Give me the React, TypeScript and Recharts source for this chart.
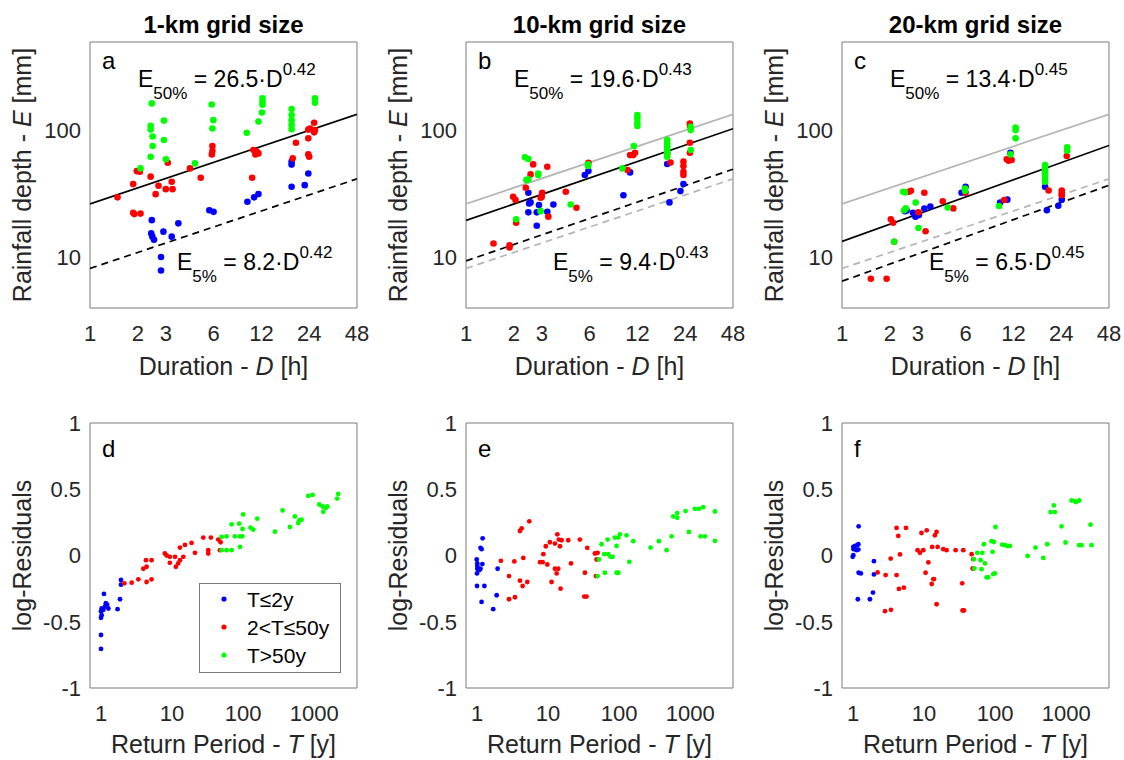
import React from 'react';
import { ScatterChart, Scatter, XAxis, YAxis } from 'recharts';

const BLUE = '#0000ff';
const RED = '#ff0000';
const GREEN = '#00ff00';
const GREY_FIT = '#b4b4b4';
const AXIS = '#7a7a7a';
const INK = '#262626';
const FONT = '"Liberation Sans", Arial, Helvetica, sans-serif';

type Pair = [number, number];

// ---- top row: rainfall depth E [mm] vs duration D [h] ----
const durationTicks = [1, 2, 3, 6, 12, 24, 48];
const durationMinor = [4, 5, 7, 8, 9, 10, 20, 30, 40];
const depthTicks = [10, 100];
const depthMinor = [4, 5, 6, 7, 8, 9, 20, 30, 40, 50, 60, 70, 80, 90, 200, 300, 400, 500];

// fitted lines, values at D = 1 and D = 48
const fitDurations = [1, 48];
const fit1kmMedian = [26.5, 134.7];
const fit1kmLow = [8.2, 41.7];
const fit10kmMedian = [19.6, 103.6];
const fit10kmLow = [9.4, 49.7];
const fit20kmMedian = [13.4, 76.5];
const fit20kmLow = [6.5, 37.1];

const aBlue: Pair[] = [[2.45, 19.7], [2.43, 15.5], [2.47, 14.6], [2.53, 13.8], [2.9, 16], [3.27, 14.6], [3.6, 18.6], [2.8, 10.1], [2.8, 7.9], [5.64, 23.6], [6.0, 22.9], [9.8, 27.5], [10.8, 29.8], [11.5, 31.7], [18.6, 36.1], [22.5, 37.2], [18.6, 57], [18.6, 54], [23.7, 46]];
const aRed: Pair[] = [[1.49, 29.8], [1.87, 37.9], [1.97, 48], [2.06, 47.4], [1.87, 22.5], [1.9, 22], [2.08, 22.2], [2.41, 43.4], [2.59, 31.6], [2.7, 36.8], [3.0, 34.6], [3.27, 39.6], [3.31, 34.6], [3.09, 55.9], [4.26, 50.4], [4.98, 42.6], [5.9, 75.7], [5.9, 69.1], [5.85, 65], [10.5, 42.6], [10.7, 70.4], [11.2, 68.3], [11.5, 66.2], [11.0, 65], [18.9, 60.5], [19.8, 80.4], [23.7, 102], [24.3, 104], [25.8, 115.6], [26.1, 101], [25.8, 97], [23.7, 87], [23.7, 65], [24, 62.3]];
const aGreen: Pair[] = [[2.45, 164], [2.41, 109], [2.41, 102], [2.48, 90], [2.48, 75.7], [2.41, 62.3], [2.08, 50.4], [2.92, 120], [2.92, 84.4], [3.01, 59.4], [5.84, 161], [5.98, 121], [5.9, 104], [4.58, 55.2], [9.7, 96.4], [11.5, 118], [12.2, 180], [12.2, 169], [12.2, 160], [12.1, 139], [18.6, 148], [18.6, 133], [18.6, 121], [18.6, 111], [18.6, 102.5], [26.1, 180], [26.1, 166]];

const bBlue: Pair[] = [[2.47, 32.4], [2.5, 26.7], [2.55, 27.2], [2.47, 22.7], [2.79, 22.7], [2.79, 17.8], [2.88, 25.9], [3.25, 22.9], [3.55, 26.2], [5.6, 44.7], [5.9, 48], [9.8, 31], [10.8, 46.9], [18.5, 54.6], [19.1, 27.2], [22.4, 33.4], [23.4, 37.9]];
const bRed: Pair[] = [[1.49, 12.9], [1.88, 12.5], [1.88, 12], [1.98, 30.1], [2.05, 28.4], [2.07, 18.8], [2.38, 35.5], [2.55, 45.2], [2.65, 54.2], [3.25, 52], [3.02, 32.4], [3.0, 30.1], [2.95, 29.6], [3.3, 21], [4.25, 33], [4.96, 24.7], [5.9, 55.9], [10.4, 48.9], [10.8, 64.2], [11.3, 64.2], [11.6, 67], [18.5, 66], [19.4, 56], [23.4, 57], [23.4, 52.6], [23.4, 47.5], [23.4, 44.7], [25.7, 114], [25.7, 109], [25.7, 80.4], [25.7, 67]];
const bGreen: Pair[] = [[2.35, 61.6], [2.47, 59.7], [2.4, 40.8], [2.47, 41.3], [2.85, 46], [2.85, 44.7], [2.95, 23.2], [2.07, 20], [4.56, 26.2], [5.87, 54.2], [5.87, 52.6], [9.65, 50.4], [11.4, 75.7], [12, 133], [12, 125], [12, 115.6], [12, 108.8], [18.5, 84.4], [18.5, 79.4], [18.5, 74.8], [18.5, 70.4], [18.5, 66.2], [18.5, 62.3], [26, 107.5], [26, 101], [26, 70.4]];

const cBlue: Pair[] = [[2.49, 23.2], [2.55, 23.5], [2.8, 22.5], [2.9, 21], [3.05, 21.6], [3.3, 24.3], [3.6, 25.2], [5.66, 32.4], [6.0, 36.1], [9.9, 27.1], [11.0, 28.6], [11.5, 67], [19, 36.1], [19.5, 23.6], [23, 25.6], [24.2, 28.6]];
const cRed: Pair[] = [[1.52, 6.8], [1.91, 6.8], [2.03, 20], [2.1, 18.8], [2.13, 13.3], [2.64, 33], [2.72, 33.6], [3.03, 22.7], [3.3, 32.4], [3.36, 16.1], [4.31, 27.8], [5.02, 24.4], [6.0, 32.4], [10.9, 59.4], [11.2, 58], [11.7, 58.7], [10.5, 28.4], [20, 33.8], [24.2, 33.8], [24.2, 32.1], [24.2, 31], [26, 63.2]];
const cGreen: Pair[] = [[2.13, 13.3], [2.43, 33], [2.49, 32.6], [2.46, 23.6], [2.52, 24.4], [2.91, 27.1], [3.03, 17.1], [4.63, 24.8], [5.95, 35], [5.95, 33.6], [9.75, 25.5], [11.5, 65], [12.4, 106], [12.4, 101], [12.4, 87], [19, 53.6], [19, 50.4], [19, 47.5], [19, 44.7], [19, 42], [19, 39.6], [26.2, 73.8], [26.2, 69.5]];

// ---- bottom row: log-residuals vs return period T [y] ----
const periodTicks = [1, 10, 100, 1000];
const periodMinor = [0.7, 0.8, 0.9, 2, 3, 4, 5, 6, 7, 8, 9, 20, 30, 40, 50, 60, 70, 80, 90, 200, 300, 400, 500, 600, 700, 800, 900, 2000, 3000, 4000];
const residualTicks = [-1, -0.5, 0, 0.5, 1];

const dBlue: Pair[] = [[1.0, -0.705], [1.0, -0.6], [1.0, -0.47], [1.02, -0.45], [1.0, -0.42], [1.02, -0.4], [1.08, -0.41], [1.14, -0.385], [1.1, -0.29], [1.17, -0.36], [1.27, -0.4], [1.22, -0.37], [1.71, -0.405], [1.85, -0.33], [1.91, -0.185], [1.91, -0.22]];
const dRed: Pair[] = [[2.13, -0.21], [2.7, -0.205], [3.35, -0.18], [4.3, -0.035], [5.15, -0.035], [3.94, -0.1], [4.38, -0.085], [4.38, -0.2], [5.15, -0.18], [7.9, 0.015], [8.4, 0], [9.3, -0.01], [9.3, -0.055], [11, -0.01], [11.3, -0.085], [12.2, -0.06], [12.9, -0.035], [14.4, -0.01], [12.9, 0.06], [15.2, 0.08], [18.8, 0.095], [21, 0.02], [27.5, 0.135], [35.2, 0.135], [32.3, 0.04], [32.3, 0.015], [44.7, 0.12], [48.2, 0.1], [47.1, 0.04]];
const dGreen: Pair[] = [[49.8, 0.14], [49.8, 0.04], [58.5, 0.04], [68.8, 0.04], [90, 0.065], [58.5, 0.145], [68.8, 0.235], [76.6, 0.145], [90, 0.145], [97.3, 0.145], [88, 0.24], [100, 0.31], [98, 0.2], [127, 0.21], [139, 0.195], [158, 0.278], [280, 0.18], [359, 0.34], [455, 0.215], [535, 0.295], [615, 0.265], [664, 0.27], [596, 0.245], [824, 0.45], [948, 0.457], [1178, 0.385], [1340, 0.33], [1460, 0.36], [1524, 0.37], [1310, 0.37], [2108, 0.43], [2178, 0.465]];

const eBlue: Pair[] = [[0.99, -0.03], [1.01, -0.06], [1.01, -0.08], [1.01, -0.1], [1.0, -0.135], [1.0, -0.23], [1.08, -0.11], [1.12, -0.1], [1.12, 0.058], [1.16, 0.048], [1.2, 0.13], [1.19, -0.065], [1.27, -0.23], [1.16, -0.35], [1.69, -0.405], [1.89, -0.3], [1.95, -0.1]];
const eRed: Pair[] = [[2.17, -0.04], [2.82, -0.155], [2.82, -0.33], [3.42, -0.315], [3.35, -0.045], [4.02, 0.185], [4.25, 0.205], [5.44, 0.258], [4.02, -0.19], [4.38, -0.23], [5.1, -0.2], [4.48, -0.018], [7.7, -0.05], [8.57, 0.01], [8.38, -0.05], [9.3, 0.07], [9.75, -0.068], [10.6, 0.1], [12.5, 0.09], [13.5, 0.16], [14.7, 0.07], [15.5, 0.115], [14.2, 0.12], [19.2, 0.115], [28, 0.12], [11.2, -0.2], [12.5, -0.1], [13.2, -0.135], [13.9, -0.1], [15, -0.25], [21, -0.06], [33, -0.13], [32.3, -0.31], [34.8, -0.31], [35.6, 0.058], [45.6, 0.015], [49.8, 0.02], [47.1, -0.155], [48.2, -0.03]];
const eGreen: Pair[] = [[49.8, -0.155], [52, -0.03], [56.6, 0.085], [61.7, 0.01], [63, -0.13], [70.3, 0.01], [75.8, -0.01], [80.9, -0.01], [68.8, 0.12], [87.3, 0.135], [92, 0.072], [92, -0.13], [97.3, -0.13], [97.3, 0.135], [102.6, 0.16], [127, 0.152], [139, -0.048], [158, 0.108], [277, 0.06], [362, 0.108], [465, 0.04], [547, 0.145], [577, 0.295], [657, 0.32], [657, 0.285], [861, 0.335], [958, 0.178], [1164, 0.352], [1325, 0.352], [1524, 0.365], [1400, 0.145], [1610, 0.145], [2228, 0.332], [2228, 0.11]];

const fBlue: Pair[] = [[1.01, 0.065], [1.02, 0.048], [1.01, 0.0025], [1.07, 0.072], [1.12, 0.04], [1.19, 0.085], [1.19, 0.045], [1.15, 0.078], [0.99, -0.01], [1.2, 0.22], [1.2, -0.13], [1.29, -0.135], [1.17, -0.33], [1.73, -0.33], [1.91, -0.28], [1.97, -0.043], [1.97, -0.143]];
const fRed: Pair[] = [[2.22, -0.128], [2.88, -0.148], [2.82, -0.42], [3.42, -0.41], [3.39, -0.023], [4.1, 0.208], [4.34, 0.148], [4.1, -0.148], [4.58, 0.008], [4.43, -0.252], [5.2, -0.243], [5.56, 0.208], [8.1, 0.04], [8.75, 0.02], [9.2, 0.17], [9.75, 0.04], [10.9, 0.19], [10.5, -0.13], [11.5, -0.052], [13, 0.065], [12.8, -0.215], [13.5, -0.178], [13.8, -0.178], [14.2, 0.152], [15, 0.178], [15.5, 0.065], [15, -0.368], [18.6, 0.048], [20.7, 0.04], [27.8, 0.04], [35.6, 0.04], [34.4, -0.21], [34.8, -0.415], [36.4, -0.415], [46.7, 0.01], [49.2, -0.028], [48.2, -0.098]];
const fGreen: Pair[] = [[50.3, -0.028], [50.9, -0.098], [56, 0.02], [62.4, -0.035], [65.9, 0.02], [69.5, 0.085], [71.8, -0.06], [64.4, -0.103], [75.8, -0.165], [80, -0.165], [89, 0.108], [96, 0.102], [92, 0.028], [94, -0.14], [99, -0.135], [101, 0.215], [126, 0.082], [137, 0.078], [148, 0.072], [161, 0.072], [286, -0.003], [370, 0.06], [475, -0.018], [541, 0.085], [603, 0.328], [693, 0.328], [671, 0.378], [861, 0.22], [980, 0.098], [1189, 0.415], [1368, 0.403], [1524, 0.415], [1325, 0.41], [1524, 0.078], [1644, 0.078], [2198, 0.233], [2270, 0.078]];

const titles = ['1-km grid size', '10-km grid size', '20-km grid size'];
const legendLabels = ['T\u22642y', '2<T\u226450y', 'T>50y'];

// plot boxes in page pixels
const COLS = [90, 466, 842];
const PW = 267;
const TOP_Y = 42;
const TOP_H = 266;
const BOT_Y = 423;
const BOT_H = 265;

const rows = (pts: Pair[]) => pts.map(([x, y]) => ({ x, y }));
const lineRows = (xs: number[], ys: number[]) => xs.map((x, i) => ({ x, y: ys[i] }));

type Series = { pts: Pair[]; color: string };
type Fit = { ys: number[]; color: string; dashed?: boolean };

type PanelProps = {
  left: number;
  top: number;
  h: number;
  xDomain: [number, number];
  xTicks: number[];
  xMinor: number[];
  yDomain: [number, number];
  yLog: boolean;
  yTicks: number[];
  yMinor: number[];
  series: Series[];
  fits?: Fit[];
  r: number;
};

function Panel({ left, top, h, xDomain, xTicks, xMinor, yDomain, yLog, yTicks, yMinor, series, fits = [], r }: PanelProps) {
  const ML = 80;
  const MT = 22;
  const MR = 12;
  const MB = 45;
  const yScale = yLog ? 'log' : 'linear';
  const tickFont = { fill: INK, fontSize: 22, fontFamily: FONT };
  return (
    <div style={{ position: 'absolute', left: left - ML, top: top - MT }}>
      <ScatterChart width={PW + ML + MR} height={h + MT + MB} margin={{ top: MT, right: MR, bottom: 0, left: 0 }}>
        <XAxis xAxisId="x" type="number" dataKey="x" scale="log" domain={xDomain} allowDataOverflow ticks={xTicks} interval={0}
          height={MB} tickLine={false} tickSize={6} tickMargin={11} axisLine={{ stroke: AXIS }} tick={tickFont} />
        <XAxis xAxisId="xb" type="number" dataKey="x" scale="log" domain={xDomain} allowDataOverflow ticks={[...xTicks, ...xMinor]} interval={0}
          mirror height={1} tick={false} tickSize={4} tickLine={{ stroke: AXIS }} axisLine={false} />
        <XAxis xAxisId="xt" orientation="top" type="number" dataKey="x" scale="log" domain={xDomain} allowDataOverflow ticks={[...xTicks, ...xMinor]} interval={0}
          mirror height={1} tick={false} tickSize={4} tickLine={{ stroke: AXIS }} axisLine={{ stroke: AXIS }} />
        <YAxis yAxisId="y" type="number" dataKey="y" scale={yScale} domain={yDomain} allowDataOverflow ticks={yTicks} interval={0}
          width={ML} tickLine={false} tickSize={6} tickMargin={3} axisLine={{ stroke: AXIS }} tick={tickFont} />
        <YAxis yAxisId="yl" type="number" dataKey="y" scale={yScale} domain={yDomain} allowDataOverflow ticks={[...yTicks, ...yMinor]} interval={0}
          mirror width={1} tick={false} tickSize={4} tickLine={{ stroke: AXIS }} axisLine={false} />
        <YAxis yAxisId="yr" orientation="right" type="number" dataKey="y" scale={yScale} domain={yDomain} allowDataOverflow ticks={[...yTicks, ...yMinor]} interval={0}
          mirror width={1} tick={false} tickSize={4} tickLine={{ stroke: AXIS }} axisLine={{ stroke: AXIS }} />
        {fits.map((f, i) => (
          <Scatter key={'fit' + i} xAxisId="x" yAxisId="y" data={lineRows(fitDurations, f.ys)} isAnimationActive={false}
            line={{ stroke: f.color, strokeWidth: 1.7, strokeDasharray: f.dashed ? '7 5' : undefined }}
            shape={() => <g />} />
        ))}
        {series.map((s, i) => (
          <Scatter key={'s' + i} xAxisId="x" yAxisId="y" data={rows(s.pts)} isAnimationActive={false}
            shape={(p: any) => <circle cx={p.cx} cy={p.cy} r={r} fill={s.color} />} />
        ))}
      </ScatterChart>
    </div>
  );
}

function Formula({ x, y, sub, coef, exp }: { x: number; y: number; sub: string; coef: string; exp: string }) {
  return (
    <text x={x} y={y} fontSize={23} fill="#000">
      E<tspan fontSize={17} dy={12}>{sub}</tspan>
      <tspan fontSize={23} dy={-12}>{' = ' + coef + '\u00b7D'}</tspan>
      <tspan fontSize={17} dy={-12}>{exp}</tspan>
    </text>
  );
}

const topPanels = [
  { series: [{ pts: aBlue, color: BLUE }, { pts: aRed, color: RED }, { pts: aGreen, color: GREEN }], fits: [{ ys: fit1kmMedian, color: '#000' }, { ys: fit1kmLow, color: '#000', dashed: true }], letter: 'a', coef50: '26.5', coef5: '8.2', exp: '0.42' },
  { series: [{ pts: bBlue, color: BLUE }, { pts: bRed, color: RED }, { pts: bGreen, color: GREEN }], fits: [{ ys: fit1kmMedian, color: GREY_FIT }, { ys: fit1kmLow, color: GREY_FIT, dashed: true }, { ys: fit10kmMedian, color: '#000' }, { ys: fit10kmLow, color: '#000', dashed: true }], letter: 'b', coef50: '19.6', coef5: '9.4', exp: '0.43' },
  { series: [{ pts: cBlue, color: BLUE }, { pts: cRed, color: RED }, { pts: cGreen, color: GREEN }], fits: [{ ys: fit1kmMedian, color: GREY_FIT }, { ys: fit1kmLow, color: GREY_FIT, dashed: true }, { ys: fit20kmMedian, color: '#000' }, { ys: fit20kmLow, color: '#000', dashed: true }], letter: 'c', coef50: '13.4', coef5: '6.5', exp: '0.45' },
];

const botPanels = [
  { series: [{ pts: dBlue, color: BLUE }, { pts: dRed, color: RED }, { pts: dGreen, color: GREEN }], letter: 'd' },
  { series: [{ pts: eBlue, color: BLUE }, { pts: eRed, color: RED }, { pts: eGreen, color: GREEN }], letter: 'e' },
  { series: [{ pts: fBlue, color: BLUE }, { pts: fRed, color: RED }, { pts: fGreen, color: GREEN }], letter: 'f' },
];

const legendColors = [BLUE, RED, GREEN];

export default function App() {
  return (
    <div style={{ position: 'absolute', left: 0, top: 0, width: 1124, height: 760, background: '#fff', fontFamily: FONT }}>
      {topPanels.map((p, i) => (
        <Panel key={'t' + i} left={COLS[i]} top={TOP_Y} h={TOP_H} xDomain={[1, 48]} xTicks={durationTicks} xMinor={durationMinor}
          yDomain={[4, 500]} yLog yTicks={depthTicks} yMinor={depthMinor} series={p.series} fits={p.fits} r={3.3} />
      ))}
      {botPanels.map((p, i) => (
        <Panel key={'b' + i} left={COLS[i]} top={BOT_Y} h={BOT_H} xDomain={[0.7, 4000]} xTicks={periodTicks} xMinor={periodMinor}
          yDomain={[-1, 1]} yLog={false} yTicks={residualTicks} yMinor={[]} series={p.series} r={2.4} />
      ))}
      <svg width={1124} height={760} style={{ position: 'absolute', left: 0, top: 0, pointerEvents: 'none' }} fontFamily={FONT}>
        {titles.map((t, i) => (
          <text key={t} x={COLS[i] + PW / 2} y={33} textAnchor="middle" fontSize={24} fontWeight="bold" fill="#000">{t}</text>
        ))}
        {topPanels.map((p, i) => (
          <g key={'ta' + i}>
            <text x={COLS[i] + 12} y={69} fontSize={24} fill="#000">{p.letter}</text>
            <Formula x={COLS[i] + 48} y={87} sub="50%" coef={p.coef50} exp={p.exp} />
            <Formula x={COLS[i] + 87} y={270} sub="5%" coef={p.coef5} exp={p.exp} />
            <text x={COLS[i] - 68} y={TOP_Y + TOP_H / 2} dy="0.35em" textAnchor="middle" fontSize={25} fill={INK}
              transform={`rotate(-90, ${COLS[i] - 68}, ${TOP_Y + TOP_H / 2})`}>
              Rainfall depth - <tspan fontStyle="italic">E</tspan> [mm]
            </text>
            <text x={COLS[i] + PW / 2} y={375} textAnchor="middle" fontSize={25} fill={INK}>
              Duration - <tspan fontStyle="italic">D</tspan> [h]
            </text>
          </g>
        ))}
        {botPanels.map((p, i) => (
          <g key={'ba' + i}>
            <text x={COLS[i] + 12} y={457} fontSize={24} fill="#000">{p.letter}</text>
            <text x={COLS[i] - 68} y={BOT_Y + BOT_H / 2} dy="0.35em" textAnchor="middle" fontSize={25} fill={INK}
              transform={`rotate(-90, ${COLS[i] - 68}, ${BOT_Y + BOT_H / 2})`}>
              log-Residuals
            </text>
            <text x={COLS[i] + PW / 2} y={753} textAnchor="middle" fontSize={25} fill={INK}>
              Return Period - <tspan fontStyle="italic">T</tspan> [y]
            </text>
          </g>
        ))}
        <rect x={199.5} y={583.5} width={141} height={89} fill="#fff" stroke={AXIS} />
        {legendLabels.map((l, i) => (
          <g key={l}>
            <circle cx={224} cy={599 + i * 28} r={2.6} fill={legendColors[i]} />
            <text x={247} y={599 + i * 28} dy="0.36em" fontSize={21} fill="#000">{l}</text>
          </g>
        ))}
      </svg>
    </div>
  );
}
